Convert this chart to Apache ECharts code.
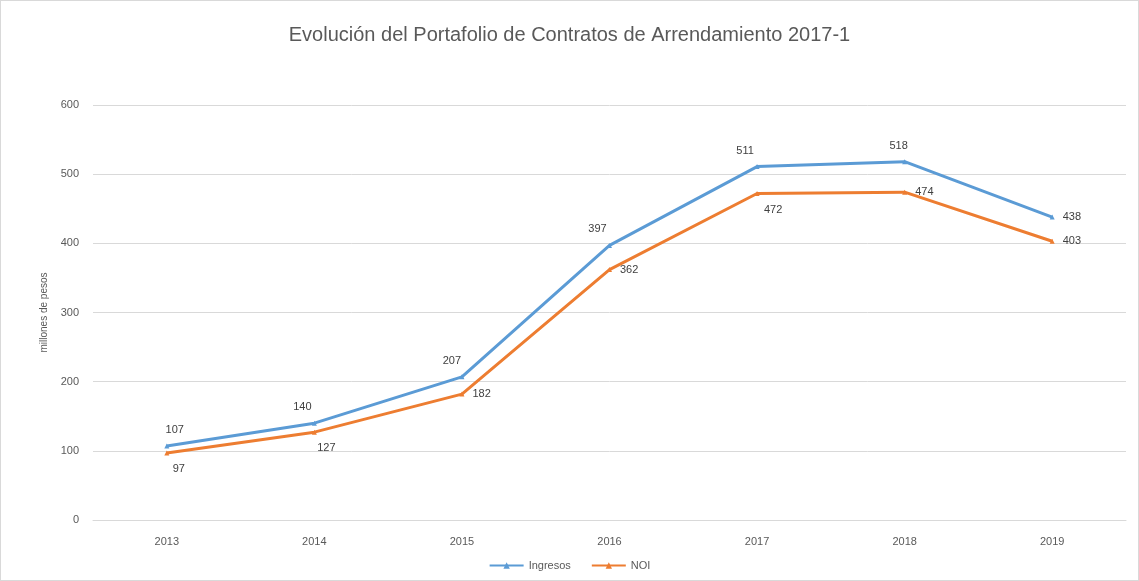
<!DOCTYPE html>
<html>
<head>
<meta charset="utf-8">
<script src="https://cdn.jsdelivr.net/npm/echarts@6/dist/echarts.min.js"></script>
<style>
  html, body { margin: 0; padding: 0; background: #fff; }
  #chart { width: 1139px; height: 581px; box-sizing: border-box; border: 1px solid #d9d9d9; }
</style>
</head>
<body>
<div id="chart"></div>
<script>
const years = ['2013', '2014', '2015', '2016', '2017', '2018', '2019'];
const ingresos = [107, 140, 207, 397, 511, 518, 438];
const noi = [97, 127, 182, 362, 472, 474, 403];

// where each data label sits (Excel places them a bit irregularly)
const ingresosLabelPos = ['top', 'top', 'top', 'top', 'top', 'top', 'right'];
const ingresosLabelShift = [[8, 0], [-12, 0], [-10, 0], [-12, 0], [-12, 0], [-6, 0], [0, 0]];
const noiLabelPos = ['bottom', 'bottom', 'right', 'right', 'bottom', 'right', 'right'];
const noiLabelShift = [[12, 0], [12, 0], [0, 0], [0, 0], [16, 0], [0, 0], [0, 0]];

const labelFont = { color: '#404040', fontSize: 11, fontFamily: 'Liberation Sans' };

function labelled(values, pos, shift) {
    return values.map(function (v, i) {
        return { value: v, label: { position: pos[i], offset: shift[i] } };
    });
}

const chart = echarts.init(document.getElementById('chart'));
chart.setOption({
    animation: false,
    title: {
        text: 'Evolución del Portafolio de Contratos de Arrendamiento 2017-1',
        left: 'center',
        top: 19,
        textStyle: { color: '#595959', fontSize: 20, fontWeight: 'normal', fontFamily: 'Liberation Sans' }
    },
    grid: { left: 92, right: 12, top: 104, bottom: 60, containLabel: false },
    legend: {
        bottom: 4,
        left: 'center',
        itemWidth: 34,
        itemHeight: 8,
        itemGap: 20,
        textStyle: { color: '#595959', fontSize: 11, fontFamily: 'Liberation Sans' },
        data: ['Ingresos', 'NOI']
    },
    xAxis: {
        type: 'category',
        data: years,
        boundaryGap: true,
        axisLine: { lineStyle: { color: '#d9d9d9' } },
        axisTick: { show: false },
        axisLabel: { color: '#595959', fontSize: 11, margin: 16, fontFamily: 'Liberation Sans' }
    },
    yAxis: {
        type: 'value',
        min: 0,
        max: 600,
        interval: 100,
        name: 'millones de pesos',
        nameLocation: 'middle',
        nameGap: 44,
        nameTextStyle: { color: '#595959', fontSize: 10, fontFamily: 'Liberation Sans' },
        axisLine: { show: false },
        axisTick: { show: false },
        axisLabel: { color: '#595959', fontSize: 11, margin: 14, fontFamily: 'Liberation Sans' },
        splitLine: { lineStyle: { color: '#d9d9d9' } }
    },
    series: [
        {
            name: 'Ingresos',
            type: 'line',
            data: labelled(ingresos, ingresosLabelPos, ingresosLabelShift),
            symbol: 'triangle',
            symbolSize: 5,
            lineStyle: { width: 3, color: '#5B9BD5' },
            itemStyle: { color: '#5B9BD5' },
            label: Object.assign({ show: true, distance: 8 }, labelFont)
        },
        {
            name: 'NOI',
            type: 'line',
            data: labelled(noi, noiLabelPos, noiLabelShift),
            symbol: 'triangle',
            symbolSize: 5,
            lineStyle: { width: 3, color: '#ED7D31' },
            itemStyle: { color: '#ED7D31' },
            label: Object.assign({ show: true, distance: 8 }, labelFont)
        }
    ]
});
</script>
</body>
</html>
